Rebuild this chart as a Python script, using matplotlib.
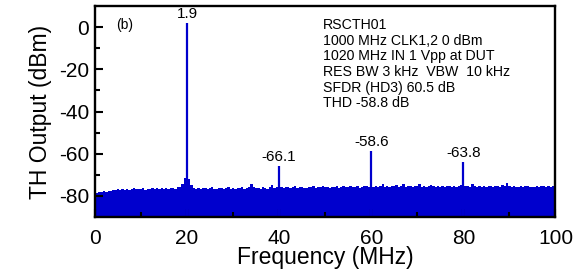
import numpy as np
import matplotlib
matplotlib.use("Agg")
import matplotlib.pyplot as plt

# noise floor, one value every 0.5 MHz (dBm)
freq = np.arange(0, 100.5, 0.5)
noise = [
    -78.3, -78.6, -78.1, -78.4, -77.9, -78.2, -77.6, -77.8, -77.3, -77.5,
    -77.0, -77.4, -76.8, -77.1, -76.6, -77.2, -76.9, -76.5, -77.0, -76.7,
    -76.9, -76.4, -77.1, -76.6, -76.8, -76.3, -76.9, -76.5, -77.0, -76.4,
    -76.7, -76.2, -76.8, -76.5, -76.3, -76.9, -76.1, -75.9, -74.6, -71.8,
    -71.2, -72.0, -74.8, -76.4, -76.7, -76.2, -76.9, -76.5, -76.3, -76.8,
    -76.4, -76.0, -76.6, -76.9, -76.2, -76.5, -76.8, -76.3, -75.9, -76.6,
    -76.4, -76.7, -76.2, -76.5, -76.0, -76.6, -76.3, -75.8, -74.6, -76.1,
    -76.5, -76.2, -76.7, -75.9, -76.3, -76.6, -76.0, -74.8, -76.4, -75.7,
    -76.2, -75.9, -76.5, -76.1, -75.8, -76.4, -76.0, -75.6, -76.3, -75.9,
    -75.7, -76.2, -76.4, -75.8, -76.1, -75.6, -76.3, -75.9, -76.0, -75.5,
    -76.1, -75.8, -76.3, -75.7, -76.0, -75.4, -76.2, -75.9, -75.6, -76.1,
    -75.8, -75.5, -76.0, -75.7, -75.4, -76.2, -75.9, -75.6, -75.3, -75.8,
    -75.6, -75.9, -75.2, -75.7, -75.5, -74.6, -75.8, -75.4, -75.9, -75.3,
    -75.6, -75.1, -75.7, -75.4, -74.5, -75.8, -75.3, -75.6, -75.9, -75.2,
    -75.5, -74.6, -75.7, -75.3, -75.8, -75.4, -75.1, -75.6, -75.9, -75.3,
    -75.7, -75.4, -75.9, -75.2, -75.6, -75.8, -75.3, -75.7, -75.5, -75.0,
    -75.8, -75.3, -75.6, -75.9, -74.4, -75.5, -75.8, -75.2, -75.7, -75.4,
    -75.9, -75.3, -75.6, -75.8, -75.2, -75.5, -75.7, -74.7, -75.4, -74.2,
    -75.6, -75.9, -75.4, -75.7, -76.0, -75.5, -75.8, -75.6, -75.3, -75.9,
    -75.7, -76.1, -75.4, -75.8, -75.6, -75.3, -75.9, -75.5, -75.8, -75.6,
    -75.7,
]

# fundamental and harmonics
tone_freq = [20, 40, 60, 80]
tone_level = [1.9, -66.1, -58.6, -63.8]
tone_label = ["1.9", "-66.1", "-58.6", "-63.8"]

info_lines = [
    "RSCTH01",
    "1000 MHz CLK1,2 0 dBm",
    "1020 MHz IN 1 Vpp at DUT",
    "RES BW 3 kHz  VBW  10 kHz",
    "SFDR (HD3) 60.5 dB",
    "THD -58.8 dB",
]

plt.rcParams["font.family"] = ["Liberation Sans", "DejaVu Sans"]
plt.rcParams["axes.unicode_minus"] = False
blue = "#0000CD"
floor = -90

fig = plt.figure(figsize=(5.75, 2.74), dpi=100)
ax = fig.add_axes([0.165, 0.209, 0.801, 0.768])

ax.fill_between(freq, noise, floor, step="mid", color=blue, lw=0)
ax.vlines(tone_freq, floor, tone_level, color=blue, lw=1.6)
for f, v, s in zip(tone_freq, tone_level, tone_label):
    ax.annotate(s, (f, v), xytext=(0, 1.5), textcoords="offset points",
                ha="center", va="bottom", fontsize=11)

ax.set_xlim(0, 100)
ax.set_ylim(-90, 10)
ax.set_xticks(range(0, 101, 20))
ax.set_xticks(range(10, 100, 20), minor=True)
ax.set_yticks(range(-80, 1, 20))
ax.set_yticks(range(-70, 1, 20), minor=True)
ax.tick_params(which="both", direction="in", top=False, right=False,
               width=1.5, labelsize=15)
ax.tick_params(which="major", length=5.8)
ax.tick_params(which="minor", length=3.3)
ax.tick_params(axis="x", pad=8.5)
ax.tick_params(axis="y", pad=4)
for sp in ax.spines.values():
    sp.set_linewidth(1.7)

ax.set_xlabel("Frequency (MHz)", fontsize=16.5, labelpad=-1)
ax.set_ylabel("TH Output (dBm)", fontsize=16.5, labelpad=5)

ax.text(0.065, 0.91, "(b)", transform=ax.transAxes, fontsize=10,
        ha="center", va="center")
for i, line in enumerate(info_lines):
    ax.text(0.496, 0.91 - i * 0.074, line, transform=ax.transAxes,
            fontsize=10.2, ha="left", va="center")

fig.savefig("out.png", dpi=100)
